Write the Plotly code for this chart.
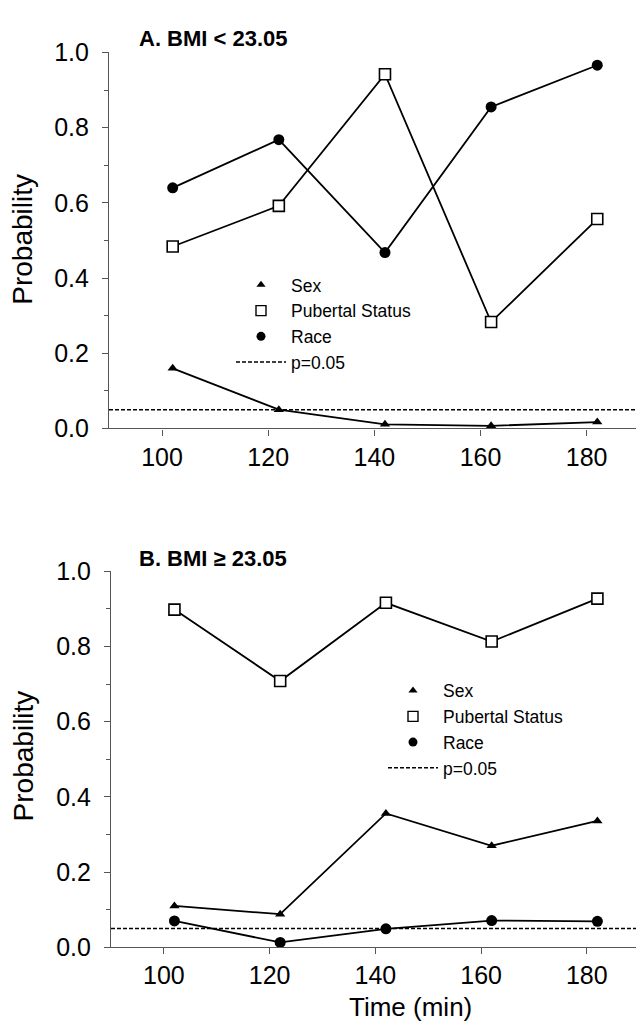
import plotly.graph_objects as go

# Sampling times (min)
TIME = [102, 122, 142, 162, 182]

# Panel A: BMI < 23.05 — probability values
A_SEX = [0.160, 0.050, 0.011, 0.007, 0.017]
A_PUBERTAL = [0.484, 0.592, 0.942, 0.283, 0.557]
A_RACE = [0.640, 0.768, 0.468, 0.855, 0.966]

# Panel B: BMI >= 23.05 — probability values
B_SEX = [0.110, 0.088, 0.356, 0.270, 0.336]
B_PUBERTAL = [0.898, 0.708, 0.916, 0.813, 0.927]
B_RACE = [0.070, 0.013, 0.049, 0.071, 0.069]

# Significance threshold line
P_LINE_X = [90, 190]
P_LINE_Y = [0.05, 0.05]

X_TICKS = [100, 120, 140, 160, 180]
Y_TICKS = [0.0, 0.2, 0.4, 0.6, 0.8, 1.0]
Y_TICK_TEXT = ["0.0", "0.2", "0.4", "0.6", "0.8", "1.0"]

FONT = "Liberation Sans, Arial, sans-serif"
W, H = 636, 1036

SERIES_STYLE = {
    "Sex": dict(symbol="triangle-up", size=9, color="black", line=dict(color="black", width=0)),
    "Pubertal Status": dict(symbol="square", size=11, color="white", line=dict(color="black", width=1.6)),
    "Race": dict(symbol="circle", size=11, color="black", line=dict(color="black", width=0)),
}
LEGEND_STYLE = {
    "Sex": dict(symbol="triangle-up", size=8, color="black", line=dict(color="black", width=0)),
    "Pubertal Status": dict(symbol="square", size=10, color="white", line=dict(color="black", width=1.4)),
    "Race": dict(symbol="circle", size=9, color="black", line=dict(color="black", width=0)),
}

fig = go.Figure()


def add_panel(xref, yref, legend, sex, pub, race):
    # legend keys (markers only)
    for name in ["Sex", "Pubertal Status", "Race"]:
        fig.add_trace(go.Scatter(
            x=[None], y=[None], mode="markers", name=name,
            marker=LEGEND_STYLE[name], legend=legend, showlegend=True,
            xaxis=xref, yaxis=yref,
        ))
    # data series
    for name, vals in [("Sex", sex), ("Pubertal Status", pub), ("Race", race)]:
        fig.add_trace(go.Scatter(
            x=TIME, y=vals, mode="lines+markers", name=name,
            line=dict(color="black", width=1.8),
            marker=SERIES_STYLE[name], showlegend=False,
            xaxis=xref, yaxis=yref, cliponaxis=False,
        ))
    # threshold
    fig.add_trace(go.Scatter(
        x=P_LINE_X, y=P_LINE_Y, mode="lines", name="p=0.05",
        line=dict(color="black", width=1.5, dash="4px,2px"),
        legend=legend, showlegend=True, xaxis=xref, yaxis=yref,
    ))


add_panel("x", "y", "legend", A_SEX, A_PUBERTAL, A_RACE)
add_panel("x2", "y2", "legend2", B_SEX, B_PUBERTAL, B_RACE)

axis_common = dict(
    showline=True, linecolor="#555555", linewidth=1.2,
    ticks="outside", tickcolor="#555555", tickwidth=1.2, ticklen=6,
    showgrid=False, zeroline=False,
    tickfont=dict(family=FONT, size=25, color="black"),
)

xaxis_common = dict(axis_common, range=[90, 189.3], tickvals=X_TICKS, ticklabelstandoff=0)
yaxis_common = dict(
    axis_common, range=[0, 1], tickvals=Y_TICKS, ticktext=Y_TICK_TEXT,
    ticklabelstandoff=8,
    minor=dict(dtick=0.1, ticks="outside", ticklen=4, tickcolor="#555555", tickwidth=1),
)

legend_common = dict(
    font=dict(family=FONT, size=17.5, color="black"),
    bgcolor="rgba(0,0,0,0)", borderwidth=0,
    itemwidth=50, xanchor="left", yanchor="top",
    tracegroupgap=0, itemclick=False,
)

fig.update_layout(
    width=W, height=H,
    margin=dict(l=0, r=0, t=0, b=0),
    paper_bgcolor="white", plot_bgcolor="white",
    font=dict(family=FONT, color="black"),
    xaxis=dict(xaxis_common, domain=[109 / W, 1], anchor="y"),
    yaxis=dict(yaxis_common, domain=[1 - 426 / H, 1 - 39.5 / H], anchor="x"),
    xaxis2=dict(xaxis_common, domain=[111 / W, 1], anchor="y2"),
    yaxis2=dict(yaxis_common, domain=[1 - 959.2 / H, 1 - 572.7 / H], anchor="x2"),
    legend=dict(legend_common, x=231 / W, y=1 - 260 / H),
    legend2=dict(legend_common, x=383 / W, y=1 - 677 / H),
    annotations=[
        dict(text="<b>A. BMI < 23.05</b>", x=137 / W, y=1 - 25 / H, xref="paper", yref="paper",
             xanchor="left", yanchor="middle", showarrow=False,
             font=dict(family=FONT, size=22, color="black")),
        dict(text="<b>B. BMI ≥ 23.05</b>", x=137 / W, y=1 - 559.5 / H, xref="paper", yref="paper",
             xanchor="left", yanchor="middle", showarrow=False,
             font=dict(family=FONT, size=22, color="black")),
        dict(text="Probability", x=23 / W, y=1 - 232 / H, xref="paper", yref="paper",
             xanchor="center", yanchor="middle", textangle=-90, showarrow=False,
             font=dict(family=FONT, size=28, color="black")),
        dict(text="Probability", x=23 / W, y=1 - 763 / H, xref="paper", yref="paper",
             xanchor="center", yanchor="middle", textangle=-90, showarrow=False,
             font=dict(family=FONT, size=28, color="black")),
        dict(text="Time (min)", x=410 / W, y=1 - 1021 / H, xref="paper", yref="paper",
             xanchor="center", yanchor="middle", showarrow=False,
             font=dict(family=FONT, size=26, color="black")),
    ],
)

fig.write_html("out.html")
